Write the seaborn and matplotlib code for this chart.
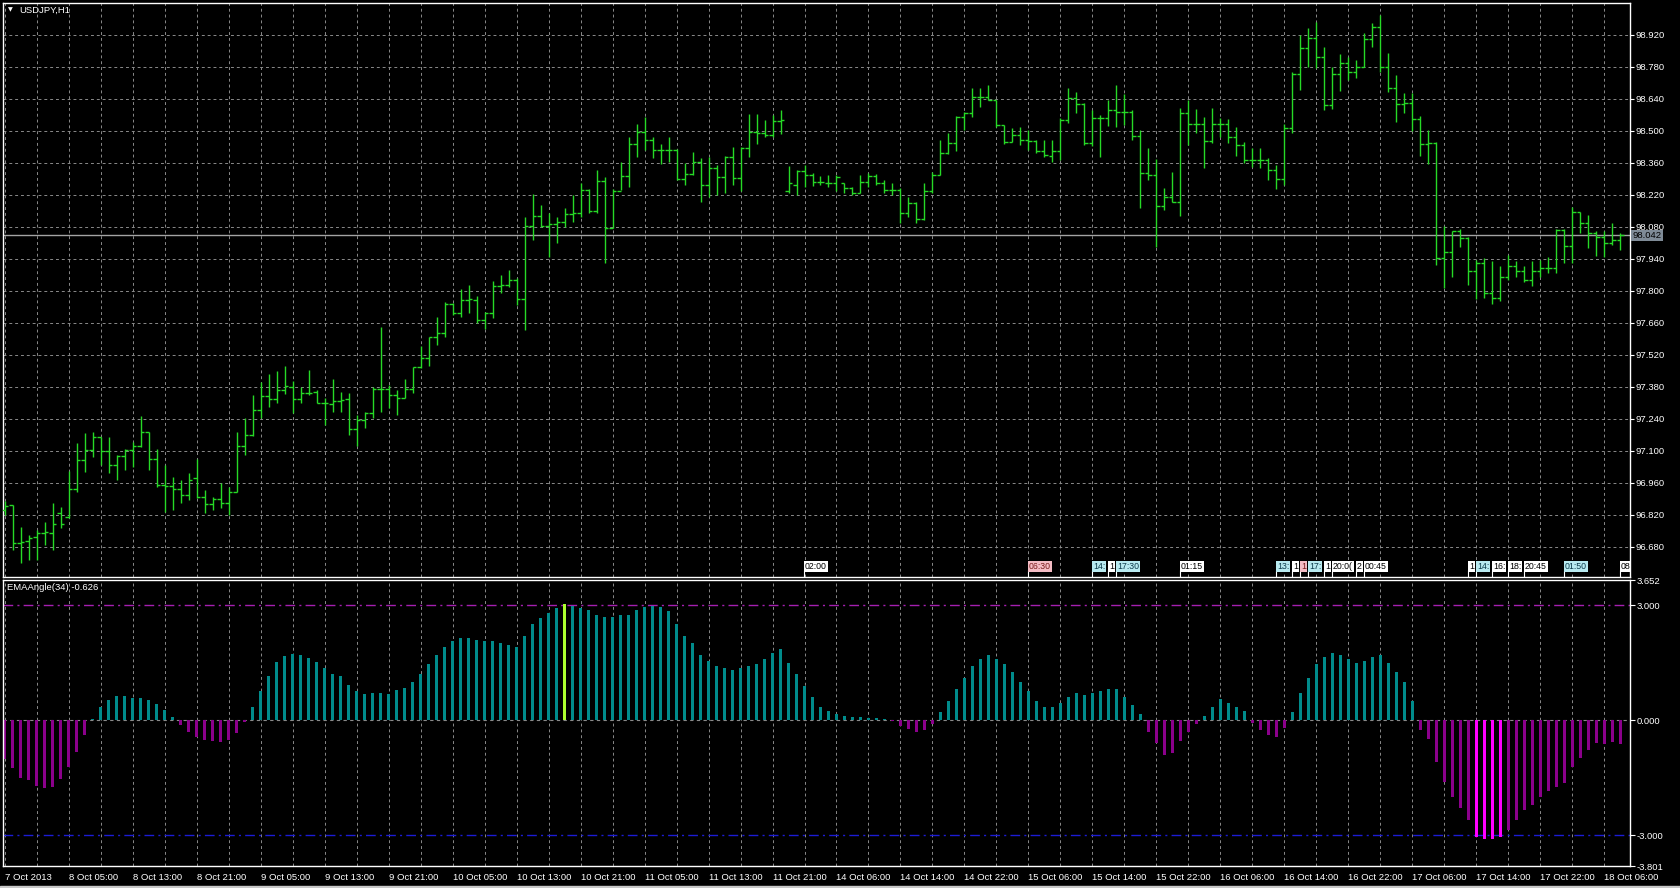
import matplotlib
matplotlib.use("Agg")
import matplotlib.pyplot as plt
import matplotlib.transforms as mtransforms
from matplotlib.patches import Rectangle
import numpy as np
import pandas as pd
import seaborn as sns

# USDJPY H1, bars from 7 Oct 2013 21:00 to 18 Oct 2013 08:00
opens = [
    96.840, 96.863, 96.698, 96.707, 96.724, 96.739, 96.739, 96.826, 96.812, 96.931,
    97.059, 97.103, 97.158, 97.100, 97.038, 97.077, 97.103, 97.121, 97.180, 97.062,
    96.950, 96.946, 96.931, 96.906, 96.979, 96.896, 96.867, 96.887, 96.870, 96.921,
    97.122, 97.169, 97.278, 97.339, 97.326, 97.366, 97.380, 97.326, 97.351, 97.358,
    97.310, 97.304, 97.317, 97.325, 97.195, 97.234, 97.264, 97.368, 97.368, 97.344,
    97.329, 97.368, 97.468, 97.504, 97.596, 97.613, 97.742, 97.701, 97.759, 97.759,
    97.672, 97.701, 97.820, 97.825, 97.847, 97.762, 98.083, 98.127, 98.083, 98.092,
    98.102, 98.135, 98.138, 98.240, 98.150, 98.280, 98.076, 98.237, 98.302, 98.442,
    98.496, 98.459, 98.415, 98.415, 98.415, 98.290, 98.310, 98.364, 98.262, 98.335,
    98.296, 98.383, 98.291, 98.423, 98.496, 98.488, 98.481, 98.544, 98.235, 98.262,
    98.325, 98.306, 98.277, 98.273, 98.273, 98.270, 98.248, 98.229, 98.277, 98.302,
    98.273, 98.241, 98.241, 98.142, 98.183, 98.113, 98.234, 98.307, 98.404, 98.448,
    98.559, 98.579, 98.646, 98.649, 98.635, 98.525, 98.452, 98.482, 98.460, 98.457,
    98.409, 98.390, 98.409, 98.547, 98.642, 98.617, 98.448, 98.554, 98.554, 98.591,
    98.584, 98.584, 98.477, 98.314, 98.307, 98.171, 98.209, 98.190, 98.576, 98.530,
    98.530, 98.457, 98.530, 98.530, 98.474, 98.438, 98.372, 98.372, 98.372, 98.328,
    98.288, 98.511, 98.748, 98.861, 98.904, 98.824, 98.613, 98.748, 98.795, 98.759,
    98.780, 98.900, 98.955, 98.780, 98.686, 98.617, 98.620, 98.550, 98.442, 98.445,
    97.942, 97.968, 98.059, 98.030, 97.884, 97.920, 97.789, 97.767, 97.859, 97.906,
    97.888, 97.847, 97.888, 97.898, 97.898, 98.066, 97.996, 98.146, 98.098, 98.051,
    98.034, 98.010, 98.022,
]
highs = [
    96.880, 96.863, 96.768, 96.731, 96.753, 96.790, 96.870, 96.852, 97.011, 97.132,
    97.176, 97.183, 97.161, 97.158, 97.081, 97.106, 97.140, 97.252, 97.183, 97.107,
    97.038, 96.987, 96.972, 97.001, 97.062, 96.928, 96.899, 96.957, 96.943, 97.183,
    97.242, 97.344, 97.402, 97.436, 97.450, 97.471, 97.406, 97.380, 97.453, 97.366,
    97.329, 97.412, 97.358, 97.354, 97.256, 97.271, 97.380, 97.640, 97.387, 97.366,
    97.412, 97.468, 97.558, 97.599, 97.683, 97.752, 97.748, 97.806, 97.825, 97.777,
    97.707, 97.842, 97.869, 97.890, 97.854, 98.124, 98.223, 98.175, 98.141, 98.124,
    98.160, 98.218, 98.270, 98.243, 98.328, 98.299, 98.243, 98.364, 98.471, 98.529,
    98.558, 98.474, 98.444, 98.474, 98.418, 98.360, 98.408, 98.379, 98.383, 98.350,
    98.389, 98.430, 98.430, 98.573, 98.573, 98.547, 98.568, 98.590, 98.345, 98.328,
    98.350, 98.316, 98.300, 98.307, 98.307, 98.273, 98.255, 98.307, 98.314, 98.311,
    98.285, 98.270, 98.248, 98.212, 98.190, 98.270, 98.321, 98.460, 98.489, 98.565,
    98.584, 98.686, 98.686, 98.700, 98.635, 98.525, 98.511, 98.518, 98.503, 98.460,
    98.460, 98.460, 98.554, 98.686, 98.671, 98.620, 98.591, 98.569, 98.635, 98.700,
    98.661, 98.591, 98.503, 98.423, 98.375, 98.248, 98.321, 98.598, 98.635, 98.594,
    98.562, 98.598, 98.554, 98.550, 98.518, 98.452, 98.423, 98.423, 98.380, 98.350,
    98.530, 98.759, 98.919, 98.948, 98.977, 98.865, 98.780, 98.836, 98.824, 98.810,
    98.926, 98.973, 99.006, 98.839, 98.744, 98.664, 98.664, 98.565, 98.503, 98.452,
    98.081, 98.059, 98.069, 98.034, 97.935, 97.942, 97.928, 97.909, 97.957, 97.928,
    97.909, 97.928, 97.935, 97.949, 98.069, 98.069, 98.165, 98.146, 98.132, 98.059,
    98.059, 98.098, 98.051,
]
lows = [
    96.820, 96.666, 96.607, 96.622, 96.622, 96.688, 96.666, 96.760, 96.804, 96.921,
    97.008, 97.074, 97.038, 97.001, 96.972, 97.016, 97.030, 97.118, 97.016, 96.943,
    96.833, 96.841, 96.870, 96.884, 96.892, 96.826, 96.841, 96.848, 96.819, 96.921,
    97.081, 97.164, 97.242, 97.293, 97.307, 97.348, 97.264, 97.307, 97.344, 97.307,
    97.212, 97.271, 97.271, 97.169, 97.121, 97.198, 97.242, 97.271, 97.285, 97.256,
    97.329, 97.351, 97.460, 97.471, 97.562, 97.599, 97.694, 97.686, 97.701, 97.657,
    97.631, 97.679, 97.788, 97.817, 97.737, 97.628, 98.022, 98.080, 97.946, 98.010,
    98.077, 98.102, 98.124, 98.141, 98.141, 97.920, 98.073, 98.240, 98.255, 98.386,
    98.415, 98.379, 98.354, 98.364, 98.284, 98.262, 98.306, 98.189, 98.211, 98.218,
    98.229, 98.262, 98.237, 98.386, 98.444, 98.474, 98.471, 98.485, 98.229, 98.218,
    98.252, 98.258, 98.263, 98.255, 98.234, 98.226, 98.219, 98.229, 98.255, 98.263,
    98.229, 98.219, 98.095, 98.124, 98.095, 98.110, 98.229, 98.307, 98.398, 98.409,
    98.503, 98.559, 98.603, 98.635, 98.518, 98.442, 98.450, 98.438, 98.416, 98.401,
    98.387, 98.365, 98.372, 98.533, 98.576, 98.438, 98.433, 98.387, 98.521, 98.518,
    98.525, 98.460, 98.161, 98.285, 97.993, 98.153, 98.190, 98.127, 98.438, 98.489,
    98.336, 98.445, 98.474, 98.445, 98.390, 98.358, 98.343, 98.336, 98.285, 98.244,
    98.263, 98.489, 98.678, 98.780, 98.773, 98.591, 98.594, 98.675, 98.722, 98.729,
    98.780, 98.865, 98.759, 98.671, 98.540, 98.576, 98.500, 98.390, 98.355, 97.913,
    97.811, 97.862, 97.990, 97.825, 97.763, 97.767, 97.742, 97.753, 97.847, 97.862,
    97.840, 97.821, 97.862, 97.879, 97.876, 97.920, 97.920, 98.051, 97.986, 97.952,
    97.946, 98.000, 97.979,
]
closes = [
    96.860, 96.698, 96.702, 96.720, 96.739, 96.745, 96.779, 96.779, 96.931, 97.059,
    97.103, 97.158, 97.100, 97.038, 97.077, 97.103, 97.121, 97.180, 97.062, 96.950,
    96.946, 96.931, 96.906, 96.972, 96.896, 96.867, 96.887, 96.870, 96.921, 97.122,
    97.169, 97.278, 97.339, 97.326, 97.366, 97.383, 97.326, 97.351, 97.354, 97.310,
    97.307, 97.317, 97.322, 97.195, 97.234, 97.264, 97.368, 97.368, 97.344, 97.329,
    97.368, 97.468, 97.504, 97.596, 97.613, 97.742, 97.701, 97.759, 97.762, 97.672,
    97.701, 97.820, 97.825, 97.847, 97.762, 98.083, 98.127, 98.083, 98.092, 98.102,
    98.135, 98.138, 98.240, 98.150, 98.280, 98.076, 98.237, 98.302, 98.442, 98.496,
    98.459, 98.415, 98.415, 98.415, 98.290, 98.310, 98.364, 98.262, 98.335, 98.296,
    98.383, 98.291, 98.423, 98.496, 98.488, 98.481, 98.544, 98.549, 98.270, 98.325,
    98.306, 98.277, 98.277, 98.273, 98.299, 98.248, 98.229, 98.277, 98.302, 98.273,
    98.241, 98.241, 98.142, 98.183, 98.113, 98.234, 98.307, 98.404, 98.448, 98.559,
    98.579, 98.646, 98.646, 98.635, 98.525, 98.452, 98.482, 98.460, 98.457, 98.409,
    98.394, 98.409, 98.547, 98.642, 98.617, 98.448, 98.554, 98.554, 98.591, 98.584,
    98.584, 98.477, 98.314, 98.307, 98.171, 98.209, 98.190, 98.576, 98.530, 98.530,
    98.457, 98.530, 98.530, 98.474, 98.438, 98.372, 98.372, 98.372, 98.328, 98.288,
    98.511, 98.748, 98.861, 98.904, 98.824, 98.613, 98.748, 98.795, 98.759, 98.780,
    98.900, 98.955, 98.780, 98.686, 98.617, 98.620, 98.550, 98.442, 98.445, 97.942,
    97.968, 98.059, 98.030, 97.884, 97.920, 97.789, 97.767, 97.859, 97.906, 97.888,
    97.847, 97.888, 97.898, 97.898, 98.066, 97.996, 98.146, 98.098, 98.051, 98.034,
    98.010, 98.022, 98.042,
]

# EMAAngle(34) histogram
ema_angle = [
    -1.00, -1.26, -1.52, -1.57, -1.72, -1.78, -1.74, -1.54, -1.22, -0.84,
    -0.39, 0.03, 0.35, 0.52, 0.63, 0.63, 0.59, 0.59, 0.52, 0.42,
    0.26, 0.09, -0.13, -0.30, -0.43, -0.52, -0.55, -0.56, -0.52, -0.33,
    -0.05, 0.35, 0.76, 1.15, 1.51, 1.67, 1.72, 1.70, 1.63, 1.52,
    1.37, 1.20, 1.15, 0.91, 0.76, 0.69, 0.70, 0.70, 0.69, 0.78,
    0.85, 1.00, 1.20, 1.45, 1.70, 1.90, 2.05, 2.15, 2.15, 2.10,
    2.05, 2.05, 2.00, 1.95, 1.90, 2.20, 2.50, 2.65, 2.80, 2.92,
    3.02, 2.97, 2.92, 2.88, 2.75, 2.70, 2.70, 2.75, 2.75, 2.88,
    2.95, 2.97, 2.95, 2.85, 2.50, 2.20, 2.00, 1.70, 1.55, 1.40,
    1.35, 1.30, 1.35, 1.40, 1.45, 1.60, 1.75, 1.85, 1.50, 1.20,
    0.90, 0.60, 0.35, 0.25, 0.15, 0.10, 0.08, 0.08, 0.06, 0.05,
    0.03, -0.02, -0.15, -0.22, -0.30, -0.25, -0.10, 0.20, 0.50, 0.80,
    1.10, 1.40, 1.60, 1.70, 1.60, 1.45, 1.25, 1.00, 0.75, 0.50,
    0.35, 0.35, 0.45, 0.60, 0.70, 0.65, 0.70, 0.75, 0.80, 0.80,
    0.60, 0.40, 0.15, -0.30, -0.60, -0.90, -0.85, -0.55, -0.30, -0.10,
    0.10, 0.35, 0.55, 0.45, 0.35, 0.25, -0.08, -0.25, -0.40, -0.45,
    -0.20, 0.20, 0.70, 1.10, 1.45, 1.65, 1.75, 1.70, 1.60, 1.50,
    1.55, 1.65, 1.70, 1.50, 1.25, 1.00, 0.50, -0.25, -0.50, -1.10,
    -1.60, -2.00, -2.30, -2.60, -3.05, -3.10, -3.10, -3.05, -2.85, -2.60,
    -2.35, -2.20, -2.00, -1.85, -1.75, -1.64, -1.23, -0.98, -0.78, -0.59,
    -0.62, -0.57, -0.626,
]

time_labels = [
    "7 Oct 2013", "8 Oct 05:00", "8 Oct 13:00", "8 Oct 21:00", "9 Oct 05:00",
    "9 Oct 13:00", "9 Oct 21:00", "10 Oct 05:00", "10 Oct 13:00", "10 Oct 21:00",
    "11 Oct 05:00", "11 Oct 13:00", "11 Oct 21:00", "14 Oct 06:00", "14 Oct 14:00",
    "14 Oct 22:00", "15 Oct 06:00", "15 Oct 14:00", "15 Oct 22:00", "16 Oct 06:00",
    "16 Oct 14:00", "16 Oct 22:00", "17 Oct 06:00", "17 Oct 14:00", "17 Oct 22:00",
    "18 Oct 06:00",
]
price_ticks = [96.68, 96.82, 96.96, 97.10, 97.24, 97.38, 97.52, 97.66, 97.80,
               97.94, 98.08, 98.22, 98.36, 98.50, 98.64, 98.78, 98.92]
ind_ticks = [-3.801, -3.0, 0.0, 3.0, 3.652]

# calendar event markers along the bottom of the price window
event_bar = [100, 128, 136, 138, 139, 147, 159, 161, 162, 163, 165, 166,
             169, 170, 183, 184, 186, 188, 190, 195, 202]
event_text = ["02:00", "06:30", "14:", "1", "17:30", "01:15", "13:", "1", "1",
              "17:", "1", "20:0(", "2", "00:45", "1", "14:", "16:", "18:",
              "20:45", "01:50", "08"]
event_kind = ["w", "p", "c", "w", "c", "w", "c", "w", "p", "c", "w", "w",
              "w", "w", "w", "c", "w", "w", "w", "c", "w"]

W, H = 1680, 888
sns.set_theme(style="dark", rc={"axes.facecolor": "black", "figure.facecolor": "black"})
plt.rcParams["font.family"] = ["Liberation Sans", "DejaVu Sans"]

GREEN = "#26d926"
GRID = "#8a8a8a"
FS = 6.8

fig = plt.figure(figsize=(W / 100, H / 100), dpi=100, facecolor="black")


def fx(px):
    return px / W


def fy(py):
    return 1 - py / H


ax = fig.add_axes([fx(3), fy(577), fx(1630) - fx(3), fy(3) - fy(577)])
ax2 = fig.add_axes([fx(3), fy(866), fx(1630) - fx(3), fy(580) - fy(866)])

n = len(closes)
idx = np.arange(n)
xmin, xmax = -0.19, 203.19

# ---- price window ----
for xv in range(0, n + 1, 4):
    ax.axvline(xv, color=GRID, lw=0.7, ls=(0, (3, 3)), zorder=0)
for yv in price_ticks:
    ax.axhline(yv, color=GRID, lw=0.7, ls=(0, (3, 3)), zorder=0)

ax.vlines(idx, lows, highs, color=GREEN, lw=1.0, zorder=3)
ax.hlines(opens, idx - 0.38, idx, color=GREEN, lw=1.0, zorder=3)
ax.hlines(closes, idx, idx + 0.38, color=GREEN, lw=1.0, zorder=3)

ax.axhline(closes[-1], color="#a3a3a3", lw=1.0, zorder=2)

ax.set_xlim(xmin, xmax)
ax.set_ylim(96.5474, 99.0587)
ax.set_xticks([])
ax.yaxis.tick_right()
ax.set_yticks(price_ticks)
ax.set_yticklabels([f"{v:.3f}" for v in price_ticks])
ax.tick_params(axis="y", colors="white", labelcolor="white", length=3, width=0.8,
               labelsize=FS, pad=1, direction="out")
for s in ax.spines.values():
    s.set_color("white")
    s.set_linewidth(1.0)

blend_y = mtransforms.blended_transform_factory(ax.transAxes, ax.transData)
ax.text(1.0015, closes[-1], f"{closes[-1]:.3f}", transform=blend_y, ha="left",
        va="center", fontsize=FS, color="black", clip_on=False, zorder=10,
        bbox=dict(boxstyle="square,pad=0.12", fc="#7f8b97", ec="none"))

blend_x = mtransforms.blended_transform_factory(ax.transData, ax.transAxes)
kind_style = {"w": ("white", "black"), "p": ("#f4bcc4", "#7a1c1c"), "c": ("#b8eaf0", "#0c3c4c")}
for k, (b, t, kd) in enumerate(zip(event_bar, event_text, event_kind)):
    fc, tc = kind_style[kd]
    ax.plot([b - 0.1, b - 0.1], [0.0, 0.012], transform=blend_x, color="white",
            lw=0.8, clip_on=False, zorder=6 + k)
    ax.text(b + 0.05, 0.0178, t, transform=blend_x, ha="left", va="center",
            fontsize=FS - 0.5, color=tc, zorder=6 + k, clip_on=True,
            bbox=dict(boxstyle="square,pad=0.12", fc=fc, ec="none"))

# ---- indicator window ----
vals = np.array(ema_angle)
kind = np.where(vals >= 3.0, "peak_up",
                np.where(vals <= -2.9, "peak_down",
                         np.where(vals >= 0, "up", "down")))
df = pd.DataFrame({"bar": idx, "angle": vals, "kind": kind})
palette = {"up": "#008b8b", "down": "#8b008b", "peak_up": "#adff2f", "peak_down": "#ff00ff"}

for xv in range(0, n + 1, 4):
    ax2.axvline(xv, color=GRID, lw=0.7, ls=(0, (3, 3)), zorder=0)
ax2.axhline(0, color=GRID, lw=0.8, ls=(0, (3, 3)), zorder=0)

sns.barplot(data=df, x="bar", y="angle", hue="kind", palette=palette,
            native_scale=True, width=0.45, dodge=False, legend=False,
            saturation=1, errorbar=None, linewidth=0, edgecolor="none",
            ax=ax2, zorder=2)

ax2.axhline(3.0, color="#a51fb0", lw=1.0, ls=(0, (7, 3, 1.5, 3)), zorder=1)
ax2.axhline(-3.0, color="#1c1cd4", lw=1.0, ls=(0, (7, 3, 1.5, 3)), zorder=1)

ax2.set_xlim(xmin, xmax)
ax2.set_ylim(-3.801, 3.652)
ax2.set_xlabel("")
ax2.set_ylabel("")
ax2.yaxis.tick_right()
ax2.set_yticks(ind_ticks)
ax2.set_yticklabels([f"{v:.3f}" for v in ind_ticks])
ax2.set_xticks(np.arange(0, 8 * len(time_labels), 8))
ax2.set_xticklabels(time_labels, ha="left")
ax2.tick_params(axis="both", colors="white", labelcolor="white", length=3.5, width=0.8,
                labelsize=FS, pad=1.5, direction="out")
for s in ax2.spines.values():
    s.set_color("white")
    s.set_linewidth(1.0)

# window captions
fig.text(fx(8), fy(10), "\u25BC", fontsize=4.5, color="white", va="center",
         family="DejaVu Sans")
fig.text(fx(19), fy(10), "USDJPY,H1", fontsize=FS, color="white", va="center")
fig.text(fx(7), fy(588), f"EMAAngle(34) {ema_angle[-1]:.3f}", fontsize=FS,
         color="white", va="center")

fig.add_artist(Rectangle((0, 0), 1, 2 / H, transform=fig.transFigure,
                         color="#c8c8c8", zorder=20))

fig.savefig("out.png", dpi=100, facecolor="black")
